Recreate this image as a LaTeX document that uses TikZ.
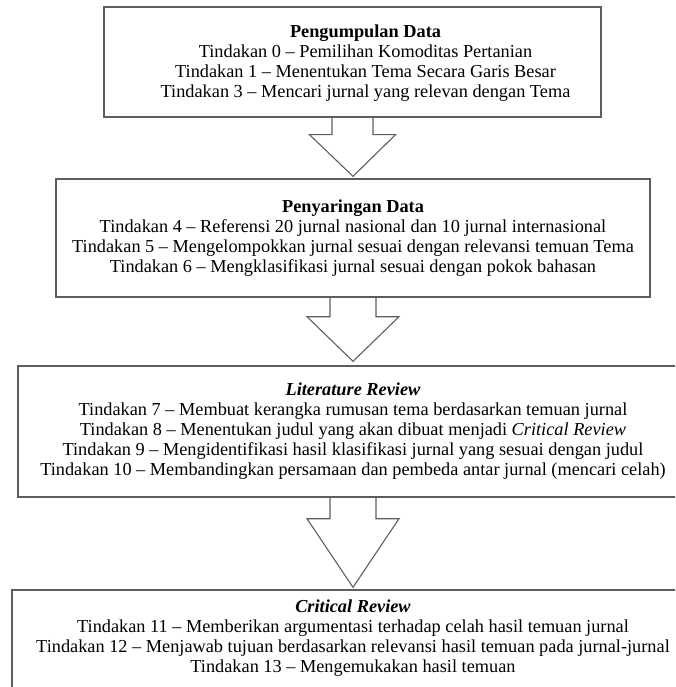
\documentclass[tikz,border=0pt]{standalone}
\usepackage{fontspec}
\setmainfont{Liberation Serif}
\usetikzlibrary{calc}
\definecolor{linegray}{HTML}{5E5E5E}
\tikzset{
  frame/.style={draw=linegray, line width=1.4pt, inner sep=0pt, align=center,
    font=\fontsize{18.3}{20}\selectfont},
  txt/.style={inner sep=0pt, align=center, font=\fontsize{18.3}{20}\selectfont},
  blk/.style={draw=linegray, line width=1.1pt, line join=miter},
}
% #1 from node, #2 to node, #3 shaft half width, #4 head half width, #5 shaft length, #6 gap at tip
\newcommand\blkarrow[6]{%
  \draw[blk] ($(#1.south)+(-#3,0)$) -- ++(0,#5) -- ++(#3-#4,0)
    -- ($(#2.north)+(0,-#6)$) -- ($(#1.south)+(#4,#5)$) -- ++(-#4+#3,0) -- ++(0,-#5);}
\begin{document}
\begin{tikzpicture}[x=1pt,y=-1pt]
\useasboundingbox (0,0) rectangle (675,687);
\clip (0,0) rectangle (675,687);
\node[frame, minimum width=497pt, minimum height=110pt] (b1) at (352.5,62) {};
\node[txt] (t1) at ($(b1.center)+(13,1)$)
  {\textbf{Pengumpulan Data}\\
   Tindakan 0 – Pemilihan Komoditas Pertanian\\
   Tindakan 1 – Menentukan Tema Secara Garis Besar\\
   Tindakan 3 – Mencari jurnal yang relevan dengan Tema};
\node[frame, minimum width=594pt, minimum height=118pt] (b2) at (353,238)
  {\textbf{Penyaringan Data}\\
   Tindakan 4 – Referensi 20 jurnal nasional dan 10 jurnal internasional\\
   Tindakan 5 – Mengelompokkan jurnal sesuai dengan relevansi temuan Tema\\
   Tindakan 6 – Mengklasifikasi jurnal sesuai dengan pokok bahasan};
\node[frame, minimum width=670pt, minimum height=131pt] (b3) at (353,431.5)
  {\textbf{\textit{Literature Review}}\\
   Tindakan 7 – Membuat kerangka rumusan tema berdasarkan temuan jurnal\\
   Tindakan 8 – Menentukan judul yang akan dibuat menjadi \textit{Critical Review}\\
   Tindakan 9 – Mengidentifikasi hasil klasifikasi jurnal yang sesuai dengan judul\\
   Tindakan 10 – Membandingkan persamaan dan pembeda antar jurnal (mencari celah)};
\node[frame, minimum width=682pt, minimum height=130pt] (b4) at (353,655) {};
\node[txt, anchor=north] (t4) at ($(b4.north)+(0,10)$)
  {\textbf{\textit{Critical Review}}\\
   Tindakan 11 – Memberikan argumentasi terhadap celah hasil temuan jurnal\\
   Tindakan 12 – Menjawab tujuan berdasarkan relevansi hasil temuan pada jurnal-jurnal\\
   Tindakan 13 – Mengemukakan hasil temuan};
\blkarrow{b1}{b2}{20.5}{43}{17}{2}
\blkarrow{b2}{b3}{23}{46}{19}{4}
\blkarrow{b3}{b4}{23}{46}{21}{2}
\end{tikzpicture}
\end{document}
